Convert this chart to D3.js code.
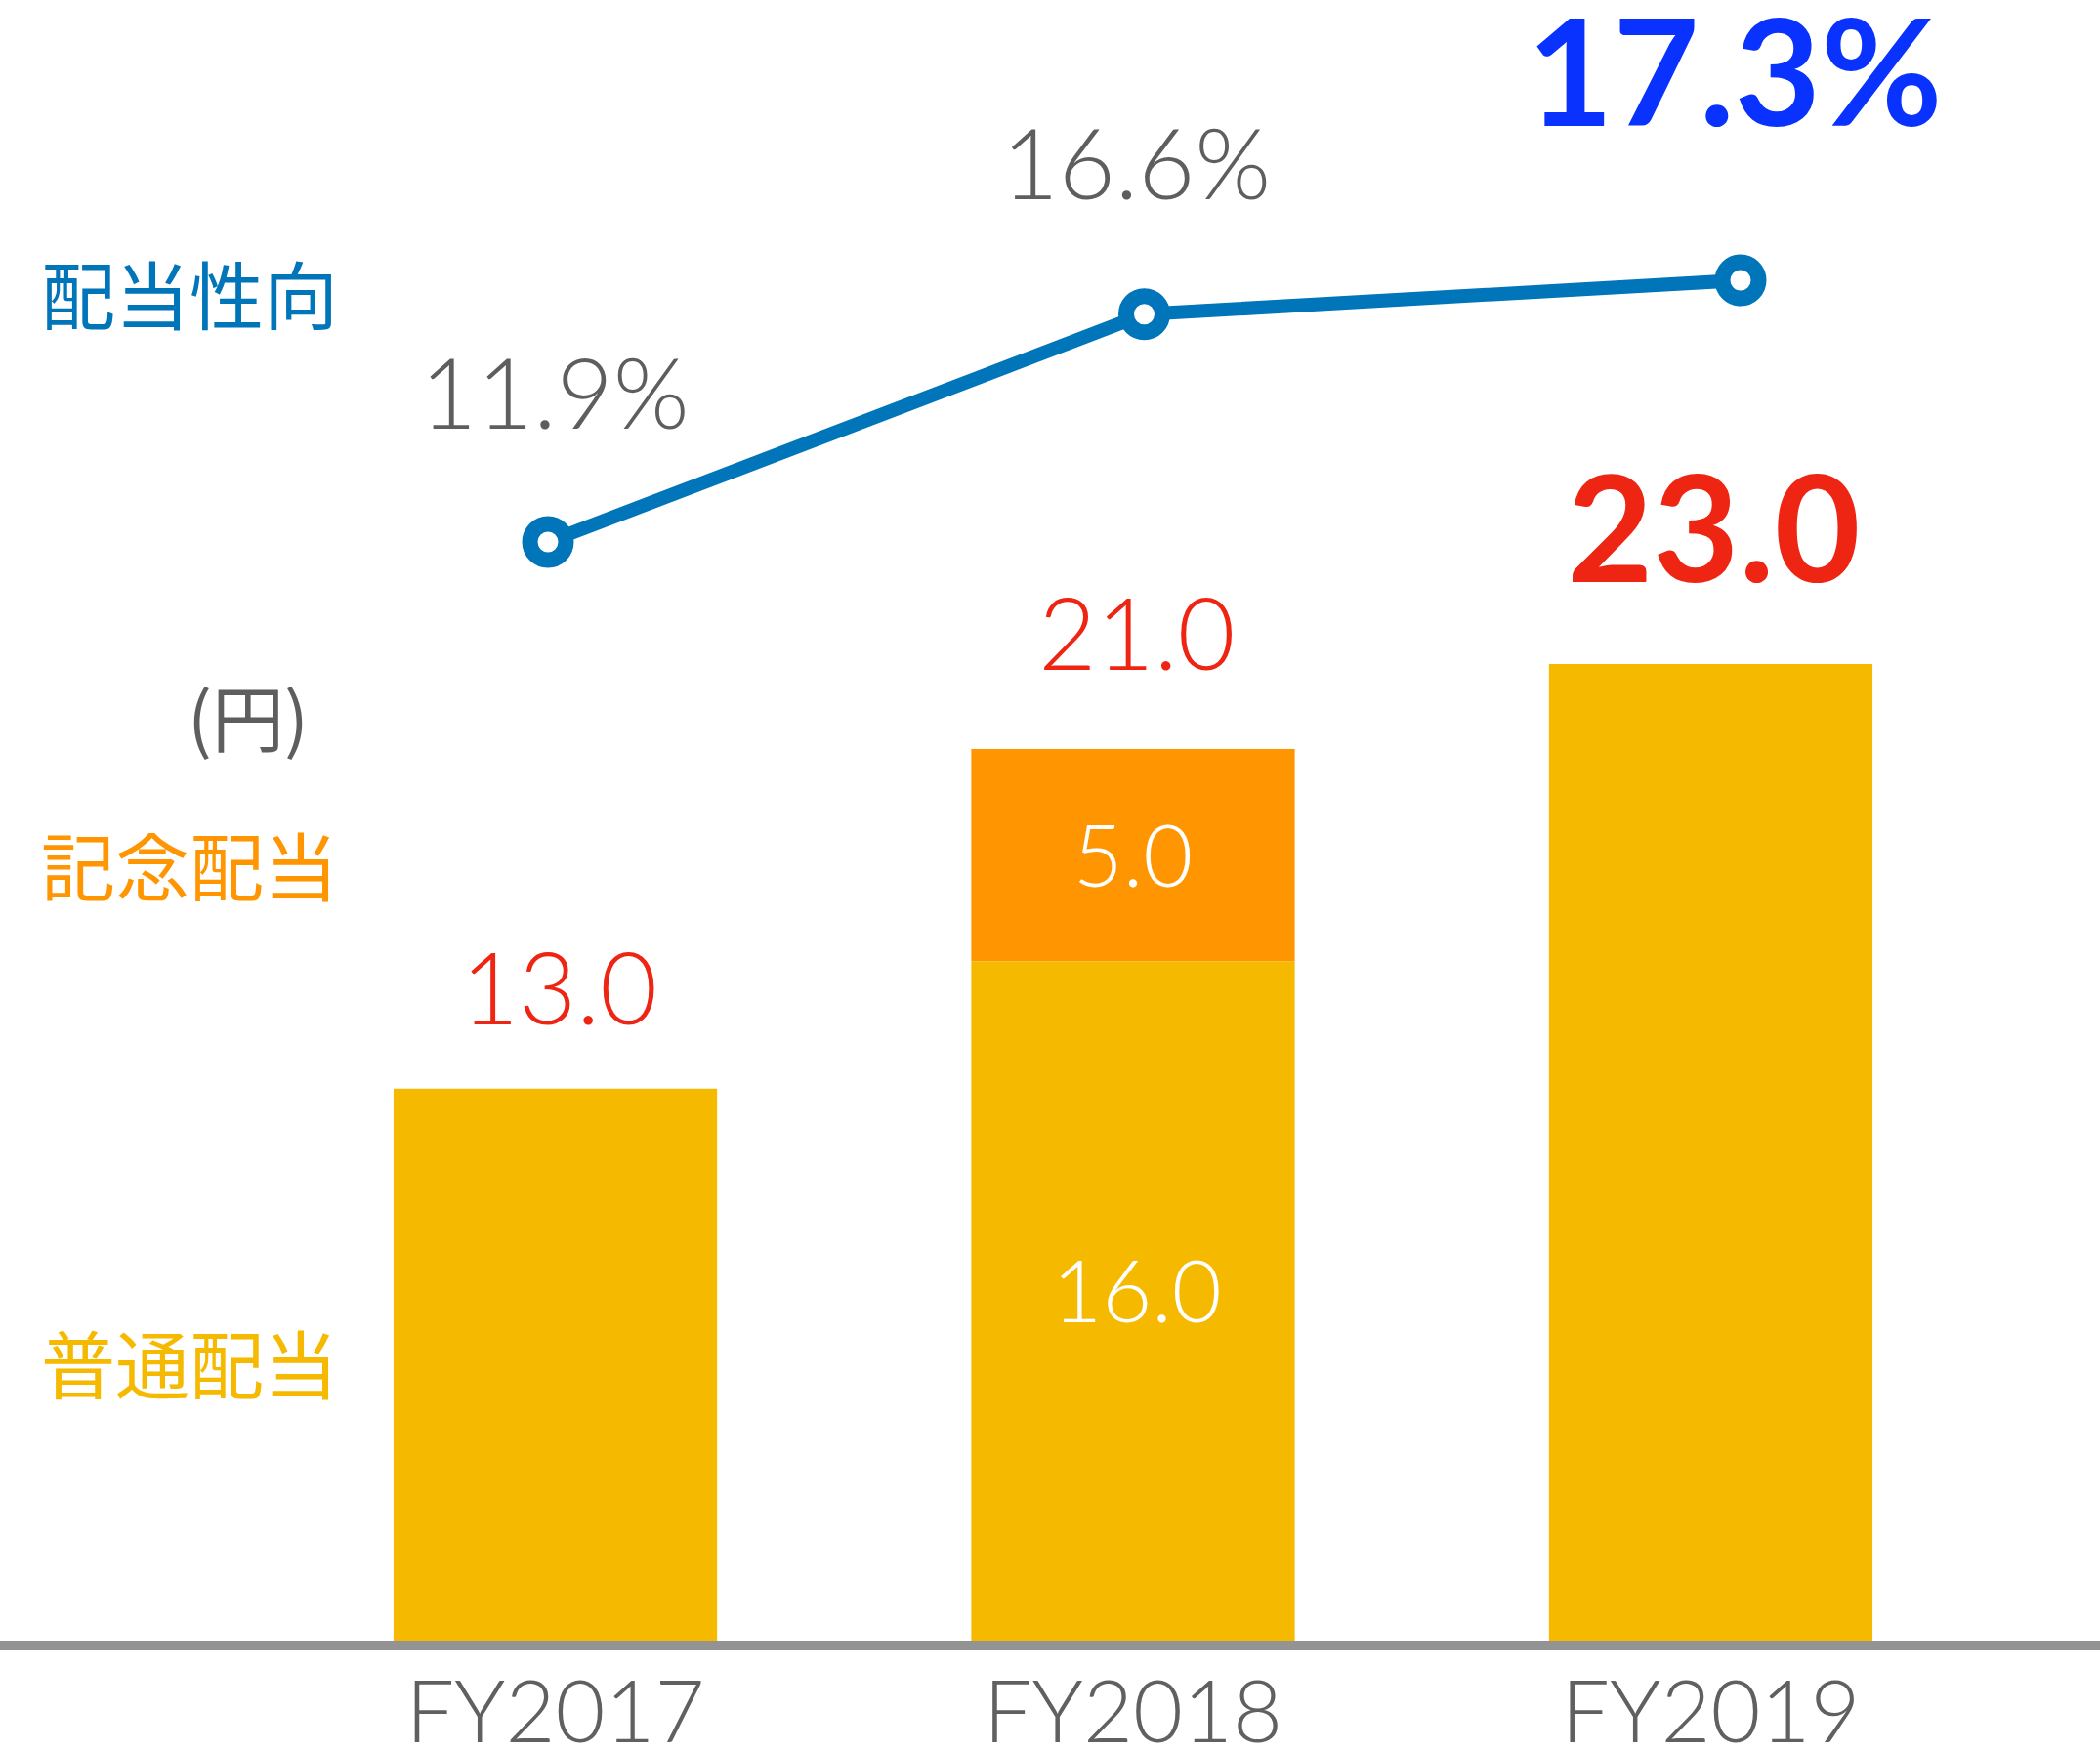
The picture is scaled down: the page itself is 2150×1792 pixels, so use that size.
<!DOCTYPE html>
<html>
<head>
	<meta charset="UTF-8">
	<title>配当金・配当性向</title>
	<script src="https://cdnjs.cloudflare.com/ajax/libs/d3/7.8.5/d3.min.js"></script>
	<style>
		body { margin: 0; background: #fff; }
		svg { display: block; }
		.num { font-family: Lato, "Noto Sans", sans-serif; }
		.jp { font-family: "Noto Sans CJK JP", sans-serif; }
	</style>
</head>
<body>
	<script>
		// data
		var years = ["FY2017", "FY2018", "FY2019"];
		var regular = [13.0, 16.0, 23.0];       // 普通配当
		var commemorative = [0, 5.0, 0];        // 記念配当
		var payout = [11.9, 16.6, 17.3];        // 配当性向 (%)

		var width = 2150, height = 1792;
		var base = 1680;

		var svg = d3.select("body").append("svg")
			.attr("width", width)
			.attr("height", height);

		// scales
		var x = d3.scaleBand().domain(years)
			.range([272.8, 2047.2]).paddingInner(0.44).paddingOuter(0.22);
		var y = d3.scaleLinear().domain([0, 23]).range([base, 680]);
		var xp = d3.scalePoint().domain(years).range([561, 1782]);
		var yp = d3.scaleLinear().domain([11.9, 17.3]).range([555, 287]);

		var rows = years.map(function(d, i) {
			return { year: d, reg: regular[i], com: commemorative[i], total: regular[i] + commemorative[i], ratio: payout[i], i: i };
		});

		// bars: regular
		svg.selectAll(".bar-reg")
			.data(rows)
			.enter().append("rect")
			.attr("class", "bar-reg")
			.attr("x", function(d) { return x(d.year); })
			.attr("width", x.bandwidth())
			.attr("y", function(d) { return y(d.reg); })
			.attr("height", function(d) { return base - y(d.reg); })
			.attr("fill", "#F5BA00");

		// bars: commemorative (stacked)
		svg.selectAll(".bar-com")
			.data(rows.filter(function(d) { return d.com > 0; }))
			.enter().append("rect")
			.attr("class", "bar-com")
			.attr("x", function(d) { return x(d.year); })
			.attr("width", x.bandwidth())
			.attr("y", function(d) { return y(d.total); })
			.attr("height", function(d) { return y(d.reg) - y(d.total); })
			.attr("fill", "#FF9500");

		// segment labels inside stacked bar
		rows.filter(function(d) { return d.com > 0; }).forEach(function(d) {
			svg.append("text").attr("class", "num")
				.attr("x", x(d.year) + x.bandwidth() / 2)
				.attr("y", (y(d.total) + y(d.reg)) / 2 + 32)
				.attr("text-anchor", "middle")
				.attr("font-size", 88).attr("font-weight", 300)
				.attr("fill", "#fff")
				.text(d.com.toFixed(1));
			svg.append("text").attr("class", "num")
				.attr("x", x(d.year) + x.bandwidth() / 2 + 4)
				.attr("y", (y(d.reg) + base) / 2 + 22)
				.attr("text-anchor", "middle")
				.attr("font-size", 88).attr("font-weight", 300)
				.attr("fill", "#fff")
				.text(d.reg.toFixed(1));
		});

		// total labels
		var totalOffset = [66, 81, 84];
		svg.selectAll(".total")
			.data(rows)
			.enter().append("text")
			.attr("class", "total num")
			.attr("x", function(d) { return x(d.year) + x.bandwidth() / 2 + (d.i === 2 ? 3 : 4); })
			.attr("y", function(d) { return y(d.total) - totalOffset[d.i]; })
			.attr("text-anchor", "middle")
			.attr("font-size", function(d) { return d.i === 2 ? 152 : 102; })
			.attr("font-weight", function(d) { return d.i === 2 ? 700 : 300; })
			.attr("fill", "#EE2512")
			.text(function(d) { return d.total.toFixed(1); });

		// baseline
		svg.append("rect")
			.attr("x", 0).attr("width", width)
			.attr("y", base).attr("height", 10)
			.attr("fill", "#939393");

		// x axis labels
		var xAxis = svg.append("g")
			.attr("transform", "translate(0," + base + ")")
			.call(d3.axisBottom(x).tickSize(0));
		xAxis.select(".domain").remove();
		xAxis.selectAll("text")
			.attr("class", "num")
			.attr("y", 104).attr("dy", null)
			.attr("font-size", 88).attr("font-weight", 300)
			.attr("font-family", "Lato, 'Noto Sans', sans-serif")
			.attr("fill", "#606060");

		// payout ratio line
		var line = d3.line()
			.x(function(d) { return xp(d.year); })
			.y(function(d) { return yp(d.ratio); });

		svg.append("path")
			.datum(rows)
			.attr("d", line)
			.attr("fill", "none")
			.attr("stroke", "#0075B9")
			.attr("stroke-width", 14);

		svg.selectAll(".dot")
			.data(rows)
			.enter().append("circle")
			.attr("class", "dot")
			.attr("cx", function(d) { return xp(d.year); })
			.attr("cy", function(d) { return yp(d.ratio); })
			.attr("r", 18.5)
			.attr("fill", "#fff")
			.attr("stroke", "#0075B9")
			.attr("stroke-width", 16);

		// payout labels
		var ratioLabelX = [7, -8, -6];
		var ratioLabelY = [116, 118, 158];
		svg.selectAll(".ratio")
			.data(rows)
			.enter().append("text")
			.attr("class", "ratio num")
			.attr("x", function(d) { return xp(d.year) + ratioLabelX[d.i]; })
			.attr("y", function(d) { return yp(d.ratio) - ratioLabelY[d.i]; })
			.attr("text-anchor", "middle")
			.attr("font-size", function(d) { return d.i === 2 ? 152 : 100; })
			.attr("font-weight", function(d) { return d.i === 2 ? 700 : 300; })
			.attr("fill", function(d) { return d.i === 2 ? "#0A32FF" : "#5E5E5E"; })
			.text(function(d) { return d.ratio.toFixed(1) + "%"; });

		// legend-like labels on the left
		var labels = [
			{ t: "配当性向", y: 332, c: "#0075B9" },
			{ t: "(円)", y: 764, c: "#5E5E5E" },
			{ t: "記念配当", y: 917, c: "#FF9500" },
			{ t: "普通配当", y: 1427, c: "#F5BA00" }
		];
		labels.forEach(function(l) {
			svg.append("text").attr("class", "jp")
				.attr("x", 346).attr("y", l.y)
				.attr("text-anchor", "end")
				.attr("font-size", 76)
				.attr("fill", l.c)
				.text(l.t);
		});
		// (円) sits further in
		svg.selectAll(".jp").filter(function() { return d3.select(this).text() === "(円)"; })
			.attr("x", 316).attr("font-size", 74);
	</script>
</body>
</html>
